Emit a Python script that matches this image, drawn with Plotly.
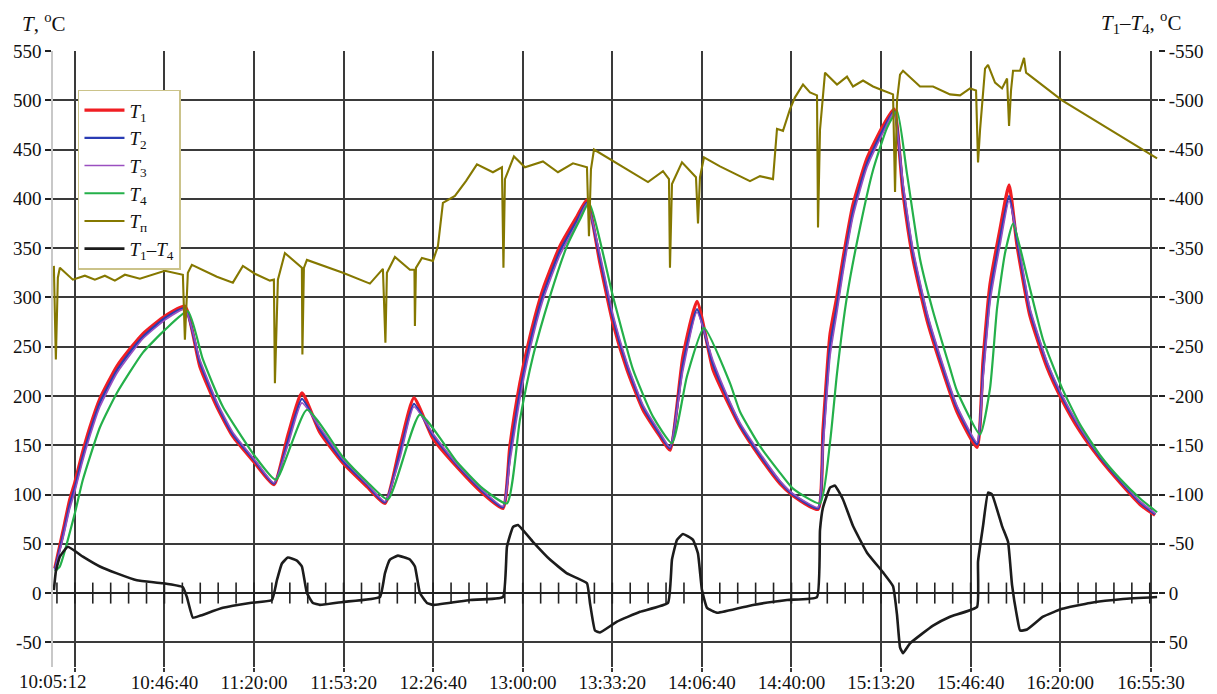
import numpy as np
import plotly.graph_objects as go

# ---- data (x in minutes after 10:00:00) ----
t_T123 = [5.9, 8.87, 11.47, 13.33, 15.94, 18.92, 22.64, 28.97, 34.55, 38.64, 46.83, 54.28,
          59.86, 66.19, 72.14, 80.33, 87.40, 92.61, 97.82, 104.52, 113.08, 122.02, 128.72,
          134.30, 139.51, 146.58, 155.52, 165.19, 172.64, 175.24, 178.96, 182.69, 187.52,
          193.85, 200.18, 203.90, 208.74, 213.58, 218.79, 224.74, 231.07, 234.79, 239.63,
          244.84, 250.80, 257.13, 260.85, 268.29, 275.74, 280.57, 289.88, 291.74, 294.35,
          296.95, 299.18, 302.91, 308.12, 314.07, 318.17, 321.52, 325.24, 330.45, 335.29,
          341.62, 349.06, 351.29, 353.90, 357.62, 360.97, 363.95, 368.79, 375.11, 380.70,
          387.40, 394.84, 402.28, 409.73, 415.31]
T1 = [25, 62, 95, 112, 140, 168, 197, 230, 250, 263, 281, 291,
      230, 189, 159, 132, 110, 160, 203, 163, 132, 108, 91,
      148, 198, 157, 128, 101, 86, 149, 213, 260, 308,
      352, 382, 399, 335, 274, 227, 186, 159, 145, 240,
      296, 227, 189, 169, 138, 111, 99, 85, 165, 262,
      301, 339, 394, 441, 474, 491, 406, 339, 277, 234,
      184, 148, 235, 313, 369, 414, 353, 281, 229, 196,
      164, 136, 112, 90, 79]
T2 = [24, 58, 90, 107, 135, 163, 193, 226, 247, 260, 279, 289,
      234, 192, 161, 134, 111, 154, 197, 166, 134, 110, 92,
      142, 192, 160, 130, 103, 87, 140, 204, 253, 302,
      347, 378, 396, 340, 279, 231, 189, 161, 147, 232,
      288, 232, 192, 171, 140, 113, 100, 86, 154, 250,
      292, 331, 387, 436, 470, 489, 412, 345, 282, 238,
      188, 151, 224, 302, 360, 403, 358, 286, 233, 199,
      167, 138, 114, 92, 80]
T3 = [23, 55, 86, 103, 131, 159, 189, 223, 244, 258, 277, 288,
      237, 194, 163, 135, 112, 150, 193, 168, 136, 111, 93,
      137, 189, 162, 131, 104, 88, 133, 197, 247, 297,
      343, 375, 395, 344, 283, 234, 191, 163, 148, 226,
      285, 236, 194, 173, 142, 114, 101, 87, 146, 240,
      285, 325, 382, 432, 467, 488, 416, 349, 285, 241,
      190, 153, 216, 295, 353, 398, 362, 289, 235, 201,
      168, 139, 115, 93, 81]

t_T4 = [5.89, 7.75, 13.33, 16.31, 22.64, 28.97, 38.64, 46.83, 55.39, 60.98, 68.42, 80.33,
        88.15, 99.69, 113.08, 122.02, 129.83, 141.74, 155.52, 165.19, 174.13, 178.96,
        183.80, 190.13, 196.46, 201.30, 204.65, 213.58, 221.02, 228.47, 235.54, 241.12,
        247.45, 257.13, 260.85, 268.29, 275.74, 280.57, 290.62, 294.35, 296.95, 300.67,
        305.51, 310.35, 315.56, 319.28, 323.01, 327.84, 332.68, 339.01, 341.62, 350.18,
        353.90, 356.51, 359.48, 362.46, 367.67, 373.63, 380.70, 387.40, 394.84, 402.28,
        409.73, 416.06]
T4 = [22, 27, 81, 115, 168, 203, 244, 267, 286, 237, 189, 139,
      115, 186, 138, 113, 95, 181, 133, 106, 91, 176,
      240, 301, 352, 379, 396, 301, 227, 179, 152, 220,
      269, 213, 184, 149, 122, 106, 91, 153, 223, 301,
      371, 429, 472, 489, 425, 339, 286, 228, 205, 161,
      208, 289, 345, 375, 321, 257, 208, 171, 140, 116,
      96, 82]

t_Tp = [5.52, 6.26, 7.01, 7.75, 12.59, 17.06, 20.78, 24.50, 28.22, 31.95, 37.53, 46.83,
        53.53, 54.28, 55.39, 56.88, 66.19, 72.14, 75.86, 80.33, 85.91, 87.40, 87.78, 88.89,
        91.50, 97.82, 98.01, 98.57, 99.69, 113.08, 123.13, 127.97, 128.90, 129.46, 132.44,
        138.02, 139.70, 139.88, 140.26, 142.49, 146.58, 148.44, 150.30, 154.77, 158.87,
        162.96, 168.91, 172.26, 172.82, 173.38, 176.73, 180.83, 187.52, 193.11, 198.69,
        203.90, 204.65, 205.39, 206.51, 213.95, 226.61, 232.19, 234.42, 234.79, 235.54,
        239.26, 244.47, 245.22, 245.96, 247.45, 253.40, 264.57, 268.29, 273.13, 274.62,
        276.85, 279.46, 281.32, 284.30, 286.90, 289.51, 289.88, 290.62, 292.49, 296.95,
        300.67, 302.91, 306.63, 310.35, 314.07, 317.80, 318.54, 319.28, 320.40, 321.52,
        327.84, 332.68, 339.01, 342.73, 346.45, 348.69, 349.43, 350.18, 352.04, 353.15,
        355.76, 358.36, 360.23, 360.97, 361.71, 362.46, 365.06, 366.55, 367.30, 380.70,
        397.45, 416.06]
Tp = [332, 237, 320, 330, 318, 322, 318, 322, 317, 323, 319, 327,
      323, 257, 325, 333, 321, 315, 332, 324, 317, 318, 213, 318,
      345, 330, 242, 330, 338, 325, 314, 329, 254, 325, 341,
      328, 328, 271, 330, 340, 337, 352, 396, 403, 418,
      435, 427, 432, 330, 420, 443, 432, 438, 427, 436,
      432, 362, 430, 450, 438, 417, 428, 420, 330, 415,
      437, 422, 375, 422, 442, 433, 418, 423, 420, 471,
      469, 491, 503, 516, 508, 505, 371, 470, 528, 516,
      524, 514, 520, 514, 510, 506, 407, 500, 526, 530,
      514, 514, 506, 505, 512, 510, 437, 470, 532, 536,
      518, 512, 522, 474, 510, 530, 530, 543, 528, 500,
      472, 441]

t_dT = [5.52, 6.26, 7.75, 10.73, 16.31, 22.64, 28.97, 36.41, 46.09, 53.53, 55.02, 57.25,
        59.86, 68.42, 78.47, 86.66, 88.52, 90.38, 92.61, 95.96, 97.82, 99.69, 101.92,
        104.52, 113.08, 126.86, 128.72, 130.58, 133.56, 138.02, 139.88, 141.74, 144.35,
        146.58, 160.35, 172.64, 174.13, 176.36, 178.22, 183.80, 190.13, 196.46, 203.90,
        205.02, 206.88, 208.74, 215.07, 223.63, 234.05, 235.54, 237.40, 239.63, 243.35,
        245.22, 246.70, 248.57, 252.29, 265.69, 278.34, 289.51, 290.62, 291.74, 294.35,
        296.21, 299.18, 302.91, 308.12, 314.07, 317.80, 319.28, 320.40, 321.52, 324.12,
        332.68, 339.01, 349.06, 349.43, 351.29, 353.15, 354.64, 358.36, 360.60, 362.09,
        363.95, 365.06, 367.67, 373.63, 380.70, 391.12, 403.40, 416.06]
dT = [-3, -22, -37, -47, -37, -27, -20, -13, -10, -6, 4, 25,
      23, 15, 10, 7, -13, -30, -36, -33, -27, 0, 10,
      12, 9, 4, -20, -34, -38, -34, -27, 0, 10,
      12, 7, 4, -47, -67, -69, -52, -34, -20, -10,
      10, 38, 40, 29, 19, 10, -34, -54, -60, -54,
      -40, -3, 15, 20, 12, 7, 4, -64, -87, -107,
      -109, -95, -68, -41, -21, -7, 22, 55, 61, 51,
      33, 24, 14, -32, -68, -102, -100, -68, -52, -8,
      24, 38, 37, 24, 16, 10, 6, 4]

grid_vals = [13.333, 46.667, 80.0, 113.333, 146.667, 180.0, 213.333, 246.667,
             280.0, 313.333, 346.667, 380.0, 413.8]
grid_text = ["", "10:46:40", "11:20:00", "11:53:20", "12:26:40", "13:00:00", "13:33:20",
             "14:06:40", "14:40:00", "15:13:20", "15:46:40", "16:20:00", "16:55:30"]
start_label = "10:05:12"
x_start = 5.2
y_left_ticks = [-50, 0, 50, 100, 150, 200, 250, 300, 350, 400, 450, 500, 550]
y_right_ticks = [-550, -500, -450, -400, -350, -300, -250, -200, -150, -100, -50, 0, 50]

FONT = "Times New Roman, Liberation Serif, DejaVu Serif, serif"
TXT = "#111111"

fig = go.Figure()

# small tick marks across the zero line (every 400 s)
zero_ticks = np.arange(400 / 60, 416.4, 400 / 60)
fig.add_trace(go.Scatter(x=zero_ticks, y=[0] * len(zero_ticks), mode="markers",
                         marker=dict(symbol="line-ns", size=15,
                                     line=dict(width=1.6, color="#222222")),
                         showlegend=False, hoverinfo="skip"))

SM = dict(shape="spline", smoothing=0.5)
fig.add_trace(go.Scatter(x=t_T123, y=T1, mode="lines", name="<i>T</i><sub>1</sub>",
                         line=dict(color="#f01e23", width=3.4, **SM)))
fig.add_trace(go.Scatter(x=t_T123, y=T2, mode="lines", name="<i>T</i><sub>2</sub>",
                         line=dict(color="#2a3cb4", width=2.4, **SM)))
fig.add_trace(go.Scatter(x=t_T123, y=T3, mode="lines", name="<i>T</i><sub>3</sub>",
                         line=dict(color="#9a4fc0", width=1.6, **SM)))
fig.add_trace(go.Scatter(x=t_T4, y=T4, mode="lines", name="<i>T</i><sub>4</sub>",
                         line=dict(color="#24b04a", width=2.2, **SM)))
fig.add_trace(go.Scatter(x=t_Tp, y=Tp, mode="lines", name="<i>T</i><sub>п</sub>",
                         line=dict(color="#857800", width=2.1)))
fig.add_trace(go.Scatter(x=t_dT, y=dT, mode="lines", yaxis="y2",
                         name="<i>T</i><sub>1</sub>–<i>T</i><sub>4</sub>",
                         line=dict(color="#1c1c1c", width=2.6, shape="spline",
                                   smoothing=0.35)))

GRID = "#3a3a3a"
TF = dict(family=FONT, size=19, color=TXT)
fig.update_layout(
    width=1209, height=686,
    margin=dict(l=45, r=59, t=43, b=27, autoexpand=False),
    paper_bgcolor="white", plot_bgcolor="white",
    font=dict(family=FONT, size=19, color=TXT),
    xaxis=dict(range=[x_start, 416.4], tickmode="array", tickvals=grid_vals,
               ticktext=grid_text, showgrid=True, gridcolor=GRID, gridwidth=1.6,
               ticks="outside", ticklen=4, tickwidth=1.6, tickcolor=GRID,
               ticklabelstandoff=-6,
               zeroline=False, showline=False, automargin=False, tickfont=TF),
    yaxis=dict(range=[-75, 550], tickmode="array", tickvals=y_left_ticks,
               ticktext=[str(v) for v in y_left_ticks],
               showgrid=True, gridcolor=GRID, gridwidth=1.6,
               ticks="outside", ticklen=6, tickwidth=1.8, tickcolor="#222222",
               showline=True, linecolor="#c8c8c8", linewidth=1.5,
               zeroline=True, zerolinecolor="#222222", zerolinewidth=2,
               automargin=False, tickfont=TF),
    yaxis2=dict(range=[75, -550], overlaying="y", side="right", tickmode="array",
                tickvals=y_right_ticks, ticktext=[str(v) for v in y_right_ticks],
                showgrid=False, zeroline=False, showline=False,
                ticks="outside", ticklen=6, tickwidth=1.8, tickcolor="#222222",
                automargin=False, tickfont=TF),
    legend=dict(x=0.0226, y=0.937, xanchor="left", yanchor="top",
                bgcolor="white", bordercolor="#cbc38a", borderwidth=1.5,
                font=dict(family=FONT, size=19, color=TXT),
                tracegroupgap=0, itemwidth=40),
    showlegend=True,
    annotations=[
        dict(x=x_start, y=0, xref="x", yref="paper", text=start_label, showarrow=False,
             xanchor="center", yanchor="top", yshift=-2, font=TF),
        dict(x=-0.03, y=1.047, xref="paper", yref="paper", showarrow=False,
             text="<i>T</i>, <sup>o</sup>C", xanchor="left", yanchor="middle",
             font=dict(family=FONT, size=21, color=TXT)),
        dict(x=0.985, y=1.047, xref="paper", yref="paper", showarrow=False,
             text="<i>T</i><sub>1</sub>–<i>T</i><sub>4</sub>, <sup>o</sup>C",
             xanchor="center", yanchor="middle",
             font=dict(family=FONT, size=21, color=TXT)),
    ],
)

fig.write_html("out.html")
